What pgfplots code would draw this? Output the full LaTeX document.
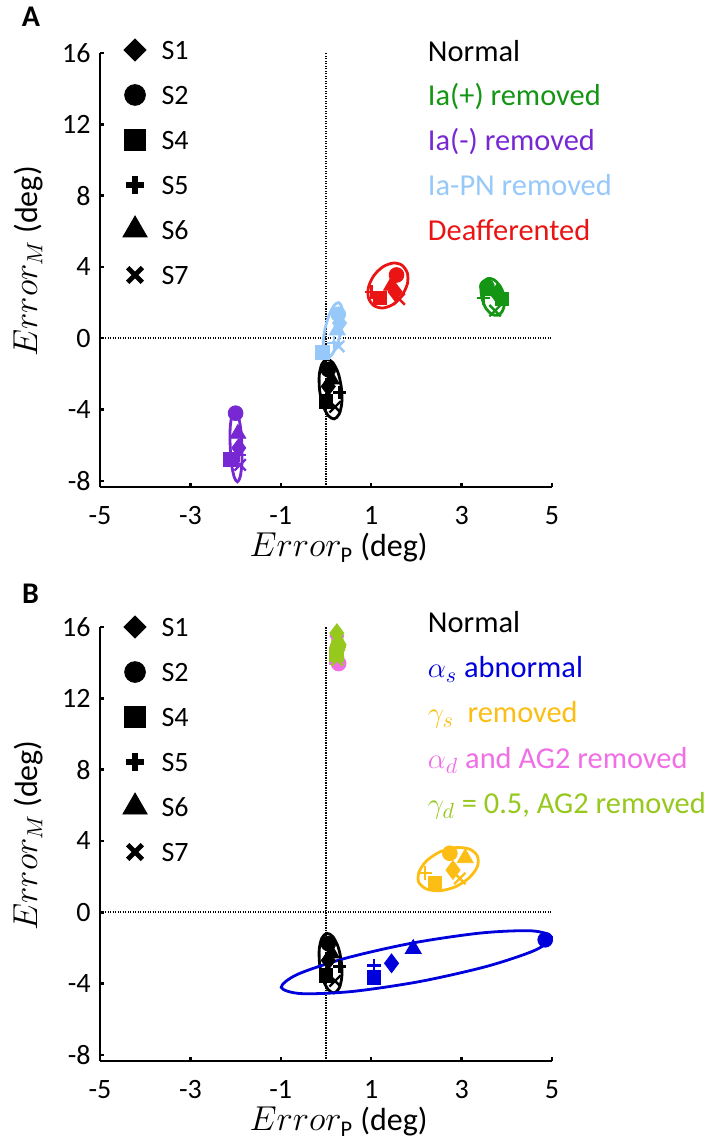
\documentclass[border=0pt]{standalone}
\usepackage{pgfplots}
\pgfplotsset{compat=1.18}
\usepackage{fontspec}
\setmainfont{Carlito}

\definecolor{cIap}{RGB}{20,150,20}
\definecolor{cIam}{RGB}{120,40,210}
\definecolor{cPN}{RGB}{150,200,250}
\definecolor{cDeaf}{RGB}{235,20,20}
\definecolor{cAs}{RGB}{0,0,220}
\definecolor{cGs}{RGB}{252,190,20}
\definecolor{cAd}{RGB}{240,110,230}
\definecolor{cGd}{RGB}{150,200,30}

% #1 colour, #2 ellipse, #3 S1 #4 S2 #5 S4 #6 S5 #7 S6 #8 S7
\newcommand{\grp}[8]{%
\addplot[forget plot, #1, line width=1.4pt, smooth cycle] coordinates {#2};
\addplot[forget plot, only marks, #1, mark=x, mark size=4pt, mark options={line width=1.2pt}] coordinates {#8};
\addplot[forget plot, only marks, #1, mark=+, mark size=3.4pt, mark options={line width=1.2pt}] coordinates {#6};
\addplot[forget plot, only marks, #1, mark=square*, mark size=3.4pt] coordinates {#5};
\addplot[forget plot, only marks, #1, mark=diamond*, mark size=4.7pt] coordinates {#3};
\addplot[forget plot, only marks, #1, mark=triangle*, mark size=4.6pt] coordinates {#7};
\addplot[forget plot, only marks, #1, mark=*, mark size=3.7pt] coordinates {#4};
}

\tikzset{txt/.style={anchor=base west, font=\fontsize{15.2}{18}\selectfont}}

\pgfplotsset{
 legend image code/.code={\draw[#1] plot coordinates {(0pt,0pt)};},
 panel/.style={
  scale only axis, width=226pt, height=217pt,
  xmin=-5, xmax=5, ymin=-8.34, ymax=16,
  axis x line=bottom, axis y line=left,
  axis line style={-, line width=1.2pt},
  xtick={-5,-3,-1,1,3,5}, ytick={-8,-4,0,4,8,12,16},
  tick align=inside, major tick length=2.2pt,
  every tick/.style={black, line width=1.2pt},
  /pgf/number format/assume math mode=true,
  ticklabel style={font=\fontsize{14}{16}\selectfont, inner sep=0pt},
  xticklabel style={yshift=-9.5pt},
  yticklabel style={xshift=-4.5pt},
  xlabel={$Error_{\mathrm{P}}$ (deg)}, ylabel={$Error_{M}$ (deg)},
  label style={font=\fontsize{16}{19}\selectfont},
  xlabel style={at={(axis description cs:0.528,-0.161)}, anchor=base, inner sep=0pt},
  ylabel style={at={(axis description cs:-0.159,0.52)}, anchor=center},
  clip=false,
  legend style={draw=none, fill=none, inner sep=0pt, outer sep=0pt,
    row sep=0pt, column sep=7.2pt, cells={anchor=west},
    nodes={inner sep=0pt, minimum height=22.5pt, text depth=0pt,
      font=\fontsize{14}{16}\selectfont},
    anchor=north west},
 },
}

\newcommand{\markerlegend}{%
\addlegendimage{black, mark=square*, mark size=3.9pt, mark options={rotate=45}}
\addlegendimage{black, mark=*, mark size=5.2pt}
\addlegendimage{black, mark=square*, mark size=5.2pt}
\addlegendimage{black, mark=+, mark size=4.7pt, mark options={line width=2.6pt}}
\addlegendimage{black, mark=triangle*, mark size=7pt}
\addlegendimage{black, mark=x, mark size=5.2pt, mark options={line width=2.4pt}}
\legend{S1,S2,S4,S5,S6,S7}
}

\newcommand{\zerolines}{%
\addplot[forget plot, black, line width=1.15pt, dash pattern=on 0.7pt off 0.55pt] coordinates {(0,-8.34) (0,16)};
\addplot[forget plot, black, line width=1.15pt, dash pattern=on 0.7pt off 0.55pt] coordinates {(-5,0) (5,0)};
}

\newcommand{\normalgrp}{%
\grp{black}{(0.02,-1.18) (-0.09,-1.44) (-0.15,-2.08) (-0.14,-2.93) (-0.07,-3.75) (0.05,-4.34) (0.18,-4.52) (0.29,-4.26) (0.35,-3.62) (0.34,-2.78) (0.27,-1.95) (0.15,-1.36)}
 {(0.05,-2.7)}{(0.05,-1.75)}{(0.0,-3.55)}{(0.3,-3.05)}{(0.12,-2.3)}{(0.2,-3.85)}
}

\begin{document}
\begin{tikzpicture}
\useasboundingbox (0,0) rectangle (354pt,-571.5pt);

% ---------------- Panel A ----------------
\begin{axis}[panel, at={(50pt,-243.5pt)}, anchor=south west,
  legend style={at={(axis description cs:0.0507,1.0588)}}]
\markerlegend
\zerolines
\normalgrp
% Ia(+) removed
\grp{cIap}{(3.58,3.35) (3.48,3.13) (3.43,2.70) (3.46,2.16) (3.54,1.67) (3.67,1.35) (3.80,1.29) (3.90,1.51) (3.95,1.94) (3.93,2.48) (3.84,2.97) (3.71,3.29)}
 {(3.78,2.5)}{(3.56,2.9)}{(3.89,2.2)}{(3.48,2.25)}{(3.63,2.65)}{(3.74,1.55)}
% Ia(-) removed
\grp{cIam}{(-2.02,-4.01) (-2.08,-4.29) (-2.12,-5.03) (-2.12,-6.04) (-2.09,-7.05) (-2.03,-7.79) (-1.96,-8.05) (-1.90,-7.78) (-1.86,-7.03) (-1.86,-6.02) (-1.89,-5.01) (-1.95,-4.27)}
 {(-1.93,-6.15)}{(-2.0,-4.2)}{(-2.12,-6.8)}{(-1.92,-6.55)}{(-1.95,-5.35)}{(-1.9,-7.1)}
% Ia-PN removed
\grp{cPN}{(0.28,2.00) (0.18,1.84) (0.07,1.31) (-0.02,0.55) (-0.06,-0.23) (-0.04,-0.82) (0.03,-1.08) (0.13,-0.92) (0.24,-0.39) (0.33,0.37) (0.37,1.15) (0.35,1.74)}
 {(0.3,0.85)}{(0.27,1.35)}{(-0.08,-0.8)}{(0.18,-0.25)}{(0.25,0.45)}{(0.28,-0.45)}
% Deafferented
\grp{cDeaf}{(1.68,4.10) (1.49,4.22) (1.26,4.01) (1.06,3.52) (0.94,2.87) (0.94,2.26) (1.06,1.83) (1.26,1.70) (1.49,1.91) (1.68,2.40) (1.80,3.05) (1.80,3.66)}
 {(1.53,2.6)}{(1.56,3.55)}{(1.19,2.26)}{(1.01,2.6)}{(1.45,2.95)}{(1.62,2.2)}

\node[txt] at (axis cs:2.10,15.55) {Normal};
\node[txt, text=cIap] at (axis cs:2.10,13.03) {Ia(+) removed};
\node[txt, text=cIam] at (axis cs:2.10,10.51) {Ia(-) removed};
\node[txt, text=cPN] at (axis cs:2.10,7.99) {Ia-PN removed};
\node[txt, text=cDeaf] at (axis cs:2.10,5.47) {Deafferented};
\end{axis}

% ---------------- Panel B ----------------
\begin{axis}[panel, at={(50pt,-530.5pt)}, anchor=south west,
  legend style={at={(axis description cs:0.0507,1.0518)}}]
\markerlegend
\zerolines
\normalgrp
% alpha_s abnormal
\grp{cAs}{(4.99,-1.39) (4.55,-1.04) (3.43,-1.16) (1.92,-1.72) (0.44,-2.57) (-0.63,-3.48) (-0.99,-4.21) (-0.55,-4.56) (0.58,-4.44) (2.08,-3.88) (3.56,-3.03) (4.63,-2.12)}
 {(1.45,-2.86)}{(4.85,-1.54)}{(1.06,-3.64)}{(1.06,-2.99)}{(1.93,-2.05)}{(1.06,-3.64)}
% gamma_s removed
\grp{cGs}{(3.35,3.15) (3.18,3.54) (2.88,3.63) (2.53,3.40) (2.23,2.90) (2.06,2.27) (2.05,1.69) (2.23,1.30) (2.53,1.21) (2.87,1.44) (3.17,1.94) (3.35,2.57)}
 {(2.81,2.37)}{(2.74,3.31)}{(2.41,1.63)}{(2.19,2.2)}{(3.08,3.04)}{(2.96,1.9)}
% alpha_d and AG2 removed
\grp{cAd}{(0.24,15.86) (0.21,15.73) (0.19,15.36) (0.19,14.85) (0.19,14.35) (0.21,13.98) (0.24,13.84) (0.27,13.98) (0.29,14.35) (0.30,14.85) (0.29,15.36) (0.27,15.73)}
 {(0.24,15.5)}{(0.28,13.95)}{(0.22,14.3)}{(0.3,15.0)}{(0.25,15.1)}{(0.27,14.05)}
% gamma_d = 0.5, AG2 removed
\grp{cGd}{(0.25,15.97) (0.20,15.83) (0.16,15.44) (0.14,14.90) (0.16,14.37) (0.20,13.97) (0.25,13.83) (0.31,13.97) (0.35,14.37) (0.36,14.90) (0.35,15.44) (0.31,15.83)}
 {(0.24,15.65)}{(0.26,14.85)}{(0.23,14.45)}{(0.3,14.9)}{(0.27,15.25)}{(0.25,14.15)}

\node[txt] at (axis cs:2.10,15.68) {Normal};
\node[txt, text=cAs] at (axis cs:2.10,13.15) {$\alpha_{s}$ abnormal};
\node[txt, text=cGs] at (axis cs:2.10,10.62) {$\gamma_{s}$\ \ removed};
\node[txt, text=cAd] at (axis cs:2.10,8.09) {$\alpha_{d}$ and AG2 removed};
\node[txt, text=cGd] at (axis cs:2.10,5.56) {$\gamma_{d}$ = 0.5, AG2 removed};
\end{axis}

\node[font=\fontsize{15}{17}\selectfont\bfseries] at (15.5pt,-8.5pt) {A};
\node[font=\fontsize{15}{17}\selectfont\bfseries] at (15.25pt,-296.75pt) {B};
\end{tikzpicture}
\end{document}
